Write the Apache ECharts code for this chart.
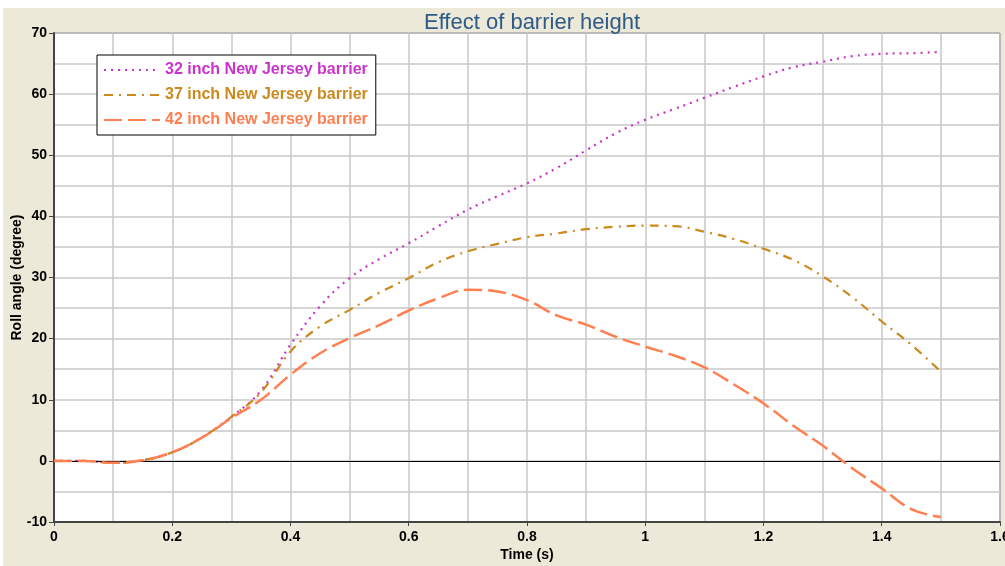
<!DOCTYPE html>
<html><head><meta charset="utf-8">
<script src="https://cdn.jsdelivr.net/npm/echarts@6/dist/echarts.min.js"></script>
<style>html,body{margin:0;padding:0;background:#fff;}
#c{position:absolute;left:3px;top:8px;width:1002px;height:558px;background:#ECE9D8;}</style>
</head><body><div id="c"></div>
<script>
const titleText = 'Effect of barrier height';
const seriesNames = ['32 inch New Jersey barrier', '37 inch New Jersey barrier', '42 inch New Jersey barrier'];
const times = [0,0.05,0.1,0.15,0.2,0.25,0.3,0.35,0.4,0.45,0.5,0.55,0.6,0.65,0.7,0.75,0.8,0.85,0.9,0.95,1.0,1.05,1.1,1.15,1.2,1.25,1.3,1.35,1.4,1.45,1.5];
const roll32 = [0,0,-0.3,0.1,1.4,3.8,7.2,11.5,19,25.3,29.9,33,35.6,38.4,41.1,43.3,45.4,47.9,50.8,53.6,55.8,57.6,59.4,61.2,62.9,64.4,65.3,66.2,66.6,66.7,66.9];
const roll37 = [0,0,-0.3,0.1,1.4,3.8,7.2,11.2,17.9,22,24.7,27.5,29.9,32.5,34.3,35.5,36.6,37.2,37.9,38.3,38.5,38.4,37.5,36.3,34.7,32.9,30.2,26.8,22.8,19,14.6];
const roll42 = [0,0,-0.3,0.1,1.4,3.8,7.0,10,14.1,17.6,20.1,22.2,24.6,26.6,28.0,27.7,26.3,23.8,22.3,20.3,18.7,17.2,15.3,12.5,9.4,5.8,2.5,-1.2,-4.5,-7.9,-9.2];
const colors = ['#CC33CC', '#CC8A1E', '#FF7F50'];
const dashes = [[2,5],[9,6,2,6],[18,6]];
const widths = [2.2, 2.2, 2.5];
const rolls = [roll32, roll37, roll42];

const chart = echarts.init(document.getElementById('c'), null, {renderer:'canvas'});
const font = 'Liberation Sans, Arial, sans-serif';
const series = rolls.map((r, i) => ({
  name: seriesNames[i],
  type: 'line',
  data: times.map((t, j) => [t, r[j]]),
  smooth: 0.4,
  symbol: 'none',
  lineStyle: {color: colors[i], width: widths[i], type: dashes[i]},
  itemStyle: {color: colors[i]},
  z: 3 + i
}));
series[0].markLine = {
  silent: true, symbol: ['none','none'], label: {show:false},
  lineStyle: {color:'#000', type:'solid', width:1},
  data: [{yAxis: 0}], animation: false
};
chart.setOption({
  animation: false,
  title: {text: titleText, left: 524, textAlign: 'center', top: -1,
    textStyle: {fontFamily: font, fontSize: 22, fontWeight: 'normal', color: '#2E5A87'}},
  grid: {left: 51, top: 25, right: 5, bottom: 44, outerBoundsMode: 'none', containLabel: false,
    show: true, backgroundColor: '#fff', borderColor: '#333', borderWidth: 1},
  legend: {
    left: 94, top: 47, orient: 'vertical', backgroundColor: '#fff', borderColor: '#000', borderWidth: 1,
    padding: [7, 8, 7, 6], itemGap: 9, itemWidth: 56, itemHeight: 14,
    itemStyle: {opacity: 0},
    textStyle: {fontFamily: font, fontSize: 16, fontWeight: 'bold'},
    data: seriesNames.map((n, i) => ({name: n, textStyle: {color: colors[i]}}))
  },
  xAxis: {
    type: 'value', min: 0, max: 1.6, interval: 0.2,
    name: 'Time (s)', nameLocation: 'middle', nameGap: 26, nameMoveOverlap: false,
    nameTextStyle: {fontFamily: font, fontSize: 14, fontWeight: 'bold', color: '#000'},
    axisLine: {show: true, onZero: false, lineStyle: {color: '#444', width: 2}},
    axisTick: {show: true, length: 4, lineStyle: {color: '#444'}},
    axisLabel: {fontFamily: font, fontSize: 14, fontWeight: 'bold', color: '#000', margin: 8,
      formatter: v => String(Math.round(v * 10) / 10)},
    splitLine: {show: true, lineStyle: {color: '#C8C8C8', width: 1.5}},
    minorTick: {show: false, splitNumber: 2},
    minorSplitLine: {show: true, lineStyle: {color: '#C8C8C8', width: 1.5}}
  },
  yAxis: {
    type: 'value', min: -10, max: 70, interval: 10,
    name: 'Roll angle (degree)', nameLocation: 'middle', nameGap: 30, nameMoveOverlap: false,
    nameTextStyle: {fontFamily: font, fontSize: 14, fontWeight: 'bold', color: '#000'},
    axisLine: {show: true, onZero: false, lineStyle: {color: '#444', width: 2}},
    axisTick: {show: true, length: 5, lineStyle: {color: '#444'}},
    axisLabel: {fontFamily: font, fontSize: 14, fontWeight: 'bold', color: '#000', margin: 7},
    splitLine: {show: true, lineStyle: {color: '#C8C8C8', width: 1.5}},
    minorTick: {show: false, splitNumber: 2},
    minorSplitLine: {show: true, lineStyle: {color: '#C8C8C8', width: 1.5}}
  },
  series: series
});
</script></body></html>
